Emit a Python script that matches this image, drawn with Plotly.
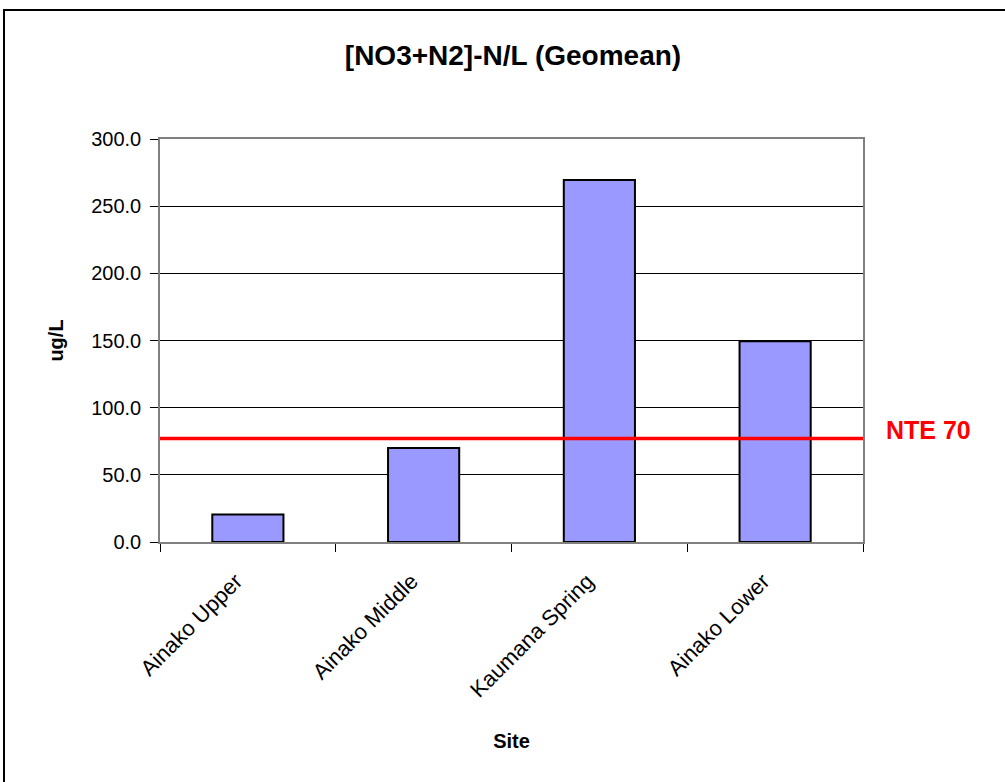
import plotly.graph_objects as go

sites = ["Ainako Upper", "Ainako Middle", "Kaumana Spring", "Ainako Lower"]
geomean = [20.5, 70.0, 269.5, 149.5]
threshold_value = 77.0
threshold_label = "NTE 70"
y_ticks = [0, 50, 100, 150, 200, 250, 300]

W, H = 1005, 782
L, R, T, B = 160, 863, 139, 542
FONT = "Liberation Sans, Arial"

fig = go.Figure()
fig.add_trace(go.Bar(
    x=sites, y=geomean,
    marker=dict(color="#9999FF", line=dict(color="black", width=2)),
    width=0.405,
))

fig.add_shape(type="line", xref="paper", yref="y", x0=0, x1=1,
              y0=threshold_value, y1=threshold_value,
              line=dict(color="#FF0000", width=3.5))

pw, ph = R - L, B - T
fig.add_annotation(text="<b>" + threshold_label + "</b>", xref="paper", yref="y",
                   x=(928 - L) / pw, y=threshold_value, xanchor="center", yanchor="middle",
                   showarrow=False, font=dict(color="#FF0000", size=25, family=FONT),
                   yshift=9)

fig.add_shape(type="rect", xref="paper", yref="paper",
              x0=(4 - L) / pw, x1=(1010 - L) / pw,
              y0=(B - 790) / ph, y1=(B - 10) / ph,
              line=dict(color="black", width=2), fillcolor="rgba(0,0,0,0)", layer="below")

fig.update_layout(
    width=W, height=H,
    margin=dict(l=L, r=W - R, t=T, b=H - B, pad=0),
    paper_bgcolor="white", plot_bgcolor="white",
    font=dict(family=FONT, color="black"),
    title=dict(text="<b>[NO3+N2]-N/L (Geomean)</b>", x=513 / W, xanchor="center",
               y=1 - 55 / H, yanchor="middle", font=dict(size=28)),
    showlegend=False,
    bargap=0.6,
)

fig.update_xaxes(
    tickangle=-45, tickfont=dict(size=22),
    ticks="outside", ticklen=8, tickcolor="black", tickson="boundaries",
    ticklabelstandoff=16, ticklabelshift=-12,
    showline=True, linecolor="#808080", linewidth=1.5, mirror=True,
    title=dict(text="<b>Site</b>", font=dict(size=20), standoff=33),
    showgrid=False,
)
fig.update_yaxes(
    range=[0, 300], tickvals=y_ticks, tickformat=".1f",
    tickfont=dict(size=20),
    ticks="outside", ticklen=8, tickcolor="black",
    ticklabelstandoff=5,
    showline=True, linecolor="#808080", linewidth=1.5, mirror=True,
    showgrid=True, gridcolor="black", gridwidth=1,
    zeroline=False,
    title=dict(text="<b>ug/L</b>", font=dict(size=20), standoff=22),
)

fig.write_html("out.html", config={"displayModeBar": False},
               post_script="document.body.style.margin='0';")
